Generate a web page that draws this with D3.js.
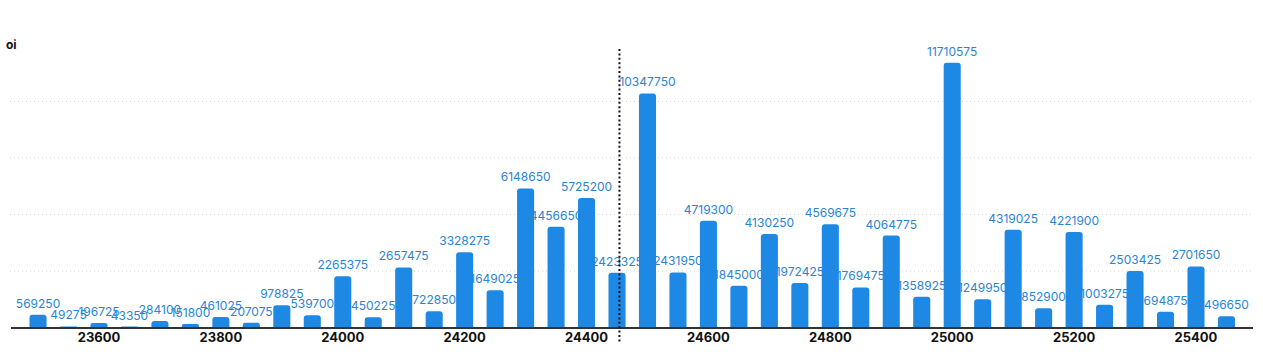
<!DOCTYPE html>
<html>
<head>
<meta charset="utf-8">
<script src="https://cdn.jsdelivr.net/npm/d3@7"></script>
<style>
  body { margin: 0; background: #fff; }
  svg { display: block; font-family: "Inter", "Noto Sans", sans-serif; }
  .mreza line { stroke: #d6d6d6; stroke-dasharray: 1 3; }
  .vrijednost { fill: #2a84d4; font-size: 12px; text-anchor: middle; }
  .os text { font-size: 13px; font-weight: 700; fill: #111; text-anchor: middle; }
</style>
</head>
<body>
<div id="okvir"></div>
<script>
const strikes = [23500, 23550, 23600, 23650, 23700, 23750, 23800, 23850, 23900, 23950,
  24000, 24050, 24100, 24150, 24200, 24250, 24300, 24350, 24400, 24450,
  24500, 24550, 24600, 24650, 24700, 24750, 24800, 24850, 24900, 24950,
  25000, 25050, 25100, 25150, 25200, 25250, 25300, 25350, 25400, 25450]
const oiVrijednosti = [569250, 49275, 196725, 43350, 284100, 151800, 461025, 207075, 978825, 539700,
  2265375, 450225, 2657475, 722850, 3328275, 1649025, 6148650, 4456650, 5725200, 2423325,
  10347750, 2431950, 4719300, 1845000, 4130250, 1972425, 4569675, 1769475, 4064775, 1358925,
  11710575, 1249950, 4319025, 852900, 4221900, 1003275, 2503425, 694875, 2701650, 496650]
const tickLabele = [23600, 23800, 24000, 24200, 24400, 24600, 24800, 25000, 25200, 25400]
const gridVrijednosti = [2500000, 5000000, 7500000, 10000000]
const spot = 24454

const dataset = strikes.map((s, i) => ({ strike: s, oi: oiVrijednosti[i] }))

const sirina = 1263
const visina = 352

const okvir = d3.select("#okvir").append("svg")
  .attr("width", sirina)
  .attr("height", visina)

const xSkala = d3.scaleBand()
  .domain(strikes)
  .range([22.8, 1241.7])
  .paddingInner(0.44)
  .paddingOuter(0.22)

const ySkala = d3.scaleLinear()
  .domain([0, 12500000])
  .range([327.5, 44.8])

// mreza
okvir.append("g").attr("class", "mreza")
  .selectAll("line")
  .data(gridVrijednosti)
  .enter().append("line")
    .attr("x1", 10)
    .attr("x2", 1252)
    .attr("y1", d => ySkala(d))
    .attr("y2", d => ySkala(d))

// stupci sa zaobljenim vrhom
const r = 3
okvir.append("g")
  .selectAll("path")
  .data(dataset)
  .enter().append("path")
    .attr("fill", "#1e88e5")
    .attr("d", d => {
      const x = xSkala(d.strike), w = xSkala.bandwidth()
      const y = ySkala(d.oi), y0 = ySkala(0)
      const rr = Math.min(r, (y0 - y) / 2)
      return `M${x},${y0}V${y + rr}Q${x},${y} ${x + rr},${y}H${x + w - rr}Q${x + w},${y} ${x + w},${y + rr}V${y0}Z`
    })

// os x
okvir.append("line")
  .attr("x1", 11).attr("x2", 1253)
  .attr("y1", ySkala(0) + 0.5).attr("y2", ySkala(0) + 0.5)
  .attr("stroke", "#333")
  .attr("stroke-width", 2)

const os = okvir.append("g").attr("class", "os")
os.selectAll("text")
  .data(tickLabele)
  .enter().append("text")
    .attr("x", d => xSkala(d) + xSkala.bandwidth() / 2)
    .attr("y", 342)
    .text(d => d)

// vrijednosti iznad stupaca
okvir.append("g")
  .selectAll("text")
  .data(dataset)
  .enter().append("text")
    .attr("class", "vrijednost")
    .attr("x", d => xSkala(d.strike) + xSkala.bandwidth() / 2)
    .attr("y", d => ySkala(d.oi) - 7)
    .text(d => d.oi)

// spot linija
const korak = xSkala.step()
const spotX = xSkala(24450) + xSkala.bandwidth() / 2 + (spot - 24450) / 50 * korak
okvir.append("line")
  .attr("x1", spotX).attr("x2", spotX)
  .attr("y1", 49).attr("y2", 342)
  .attr("stroke", "#111")
  .attr("stroke-width", 2)
  .attr("stroke-dasharray", "2 2.4")

okvir.append("text")
  .attr("x", 6).attr("y", 49)
  .style("font-size", "12px")
  .style("font-weight", 700)
  .attr("fill", "#111")
  .text("oi")
</script>
</body>
</html>
